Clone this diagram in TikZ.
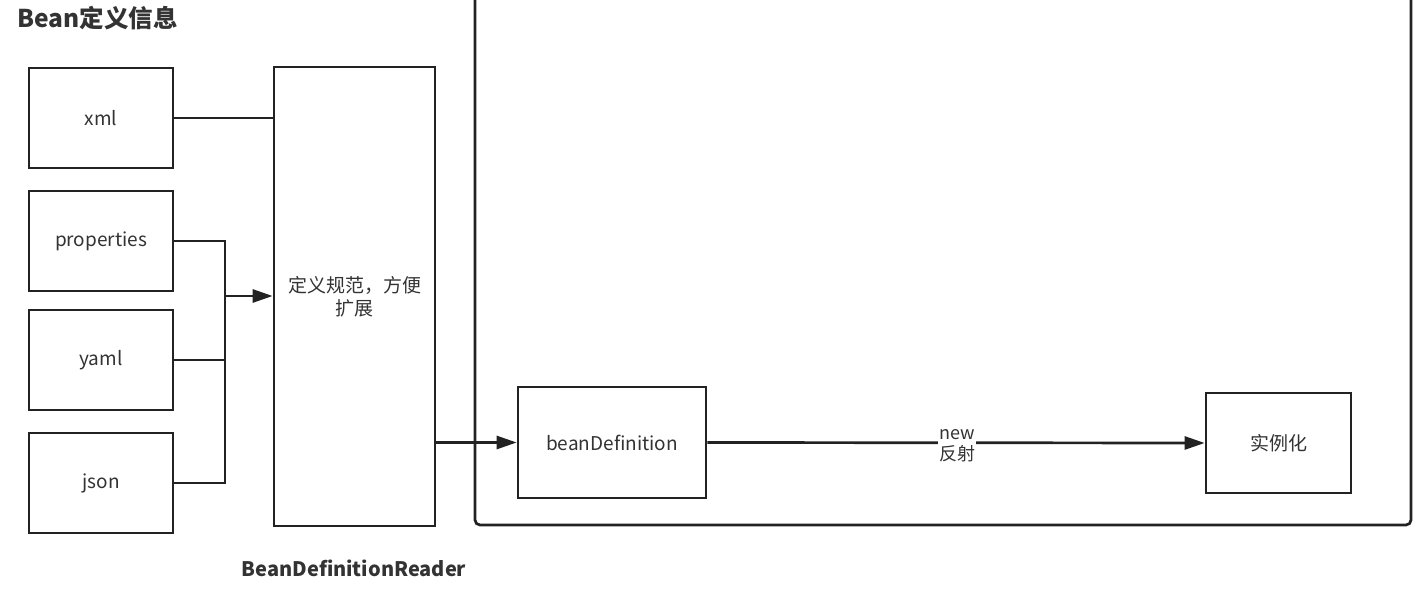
\documentclass[tikz,border=0pt]{standalone}
\usepackage{fontspec}
\setmainfont{Noto Sans CJK SC}
\usetikzlibrary{arrows.meta}
\definecolor{txt}{HTML}{333333}
\definecolor{ln}{HTML}{222222}
\tikzset{
  box/.style={draw=ln, line width=2.7pt, fill=white, rectangle, inner sep=0pt, text=txt, font=\fontsize{19}{23}\selectfont, align=center},
  conn/.style={draw=ln, line width=2.7pt},
  arr/.style={conn, -{Triangle[length=20pt,width=13pt]}},
  ttl/.style={text=txt, font=\fontsize{24.5}{28}\selectfont\bfseries, inner sep=0pt}
}
\begin{document}
\begin{tikzpicture}[x=1pt,y=-1pt]
\useasboundingbox (0,0) rectangle (1425,607);
\fill[white] (0,0) rectangle (1425,607);
% container
\draw[conn, rounded corners=5pt] (475,-20) rectangle (1411,525);
% title
\node[ttl, anchor=west] (title) at (17,18) {Bean定义信息};
\node[ttl, font=\fontsize{20}{24}\selectfont\bfseries] (rlabel) at (354,568) {BeanDefinitionReader};
% source boxes
\node[box, minimum width=144pt, minimum height=100pt] (xml) at (101,118) {xml};
\node[box, minimum width=144pt, minimum height=100pt] (prop) at (101,241) {properties};
\node[box, minimum width=144pt, minimum height=100pt] (yaml) at (101,360) {yaml};
\node[box, minimum width=144pt, minimum height=100pt] (json) at (101,483) {json};
% reader
\node[box, minimum width=161pt, minimum height=459pt] (reader) at (354.5,296.5) {定义规范，方便\\扩展};
% bean definition
\node[box, minimum width=188pt, minimum height=111pt] (bd) at (612,442.5) {beanDefinition};
\node[box, minimum width=145pt, minimum height=100pt] (inst) at (1278.5,443) {实例化};
% connectors
\coordinate (j) at (225,296);
\draw[conn] (xml.east) -- (xml.east -| reader.west);
\draw[conn] (prop.east) -- (225,241) -- (225,483) -- (json.east);
\draw[conn] (yaml.east) -- (225,360);
\draw[arr] (j) -- (j -| reader.west);
\draw[arr] (reader.east |- bd.west) -- (bd.west);
\draw[arr] (bd.east) -- (inst.west);
\node[fill=white, inner sep=1pt, text=txt, font=\fontsize{18}{21}\selectfont, align=left, anchor=west] (lbl) at (938,446) {new\\反射};
\end{tikzpicture}
\end{document}
